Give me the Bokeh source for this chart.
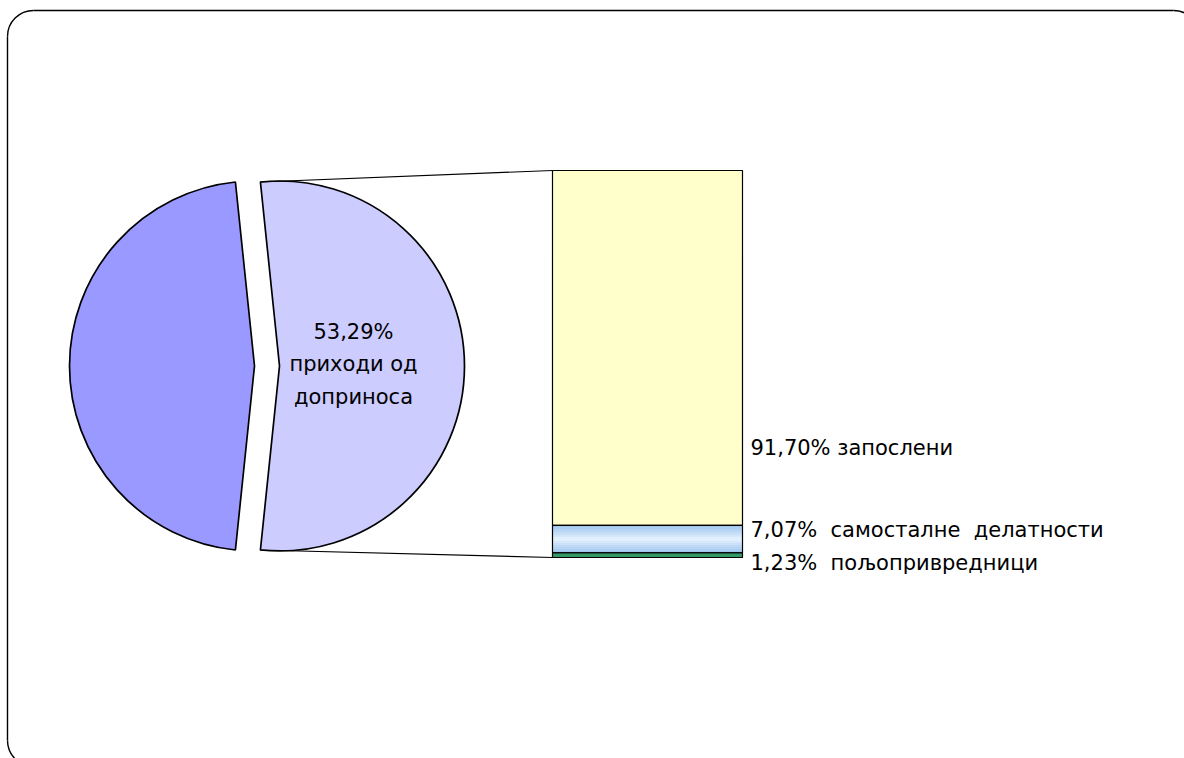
import math
from bokeh.plotting import figure
from bokeh.models import Range1d
from bokeh.core.properties import value
from bokeh.embed import file_html
from bokeh.resources import INLINE

# ---- data ----
pie_labels = ["остало", "приходи од доприноса"]
pie_values = [46.71, 53.29]
pie_colors = ["#9999FF", "#CCCCFF"]

bar_labels = ["пољопривредници", "самосталне делатности", "запослени"]
bar_values = [1.23, 7.07, 91.70]
bar_colors = ["#339966", "#CFE4FA", "#FFFFCC"]
NB = "\u00a0"
bar_texts = ["1,23%" + NB + " пољопривредници",
             "7,07%" + NB + " самосталне" + NB + " делатности",
             "91,70% запослени"]
bar_label_pos = [-1.3, 7.2, 28.4]  # label anchor heights on bar axis

pie_text = "53,29%\nприходи од\nдоприноса"

FONT = "DejaVu Sans"
W, H = 1184, 758

p = figure(width=W, height=H, output_backend="svg", toolbar_location=None,
           x_range=Range1d(0, W), y_range=Range1d(0, H), min_border=0,
           outline_line_color=None, background_fill_color="white")
p.xaxis.visible = False
p.yaxis.visible = False
p.grid.visible = False

# bar axis: 0..100 -> bar bottom..top
bar_bottom_y, bar_px_per_pct = 201.0, 3.87
p.extra_y_ranges = {"bar": Range1d(-bar_bottom_y / bar_px_per_pct, (H - bar_bottom_y) / bar_px_per_pct)}

# rounded chart frame (extends past the right and bottom edges)
fl, fr, ft, fb, rr = 7, 1199, H - 10, -8, 26
p.segment(x0=[fl + rr, fl], y0=[ft, ft - rr], x1=[fr - rr, fl], y1=[ft, fb + rr],
          line_color="black", line_width=1.4)
p.arc(x=[fl + rr, fr - rr, fl + rr], y=[ft - rr, ft - rr, fb + rr], radius=rr,
      start_angle=[math.pi / 2, 0, math.pi], end_angle=[math.pi, math.pi / 2, 1.5 * math.pi],
      line_color="black", line_width=1.4)

# ---- pie (second slice exploded) ----
R = 185
cy = 392.5
centers_x = [254, 279]
total = sum(pie_values)
half_left = math.pi * pie_values[0] / total  # half-angle of left slice
starts = [math.pi - half_left, -(math.pi - half_left)]
ends = [math.pi + half_left, math.pi - half_left]
p.wedge(x=centers_x, y=[cy, cy], radius=R, start_angle=starts, end_angle=ends,
        fill_color=pie_colors, line_color="black", line_width=1.7)

# ---- bar ----
bar_left, bar_right = 552, 742
cum = [0]
for v in bar_values:
    cum.append(cum[-1] + v)
bottoms = cum[:-1]
tops = cum[1:]

# gradient for middle segment
n = 14
grad_b, grad_t, grad_c = [], [], []
for i in range(n):
    b = bottoms[1] + bar_values[1] * i / n
    t = bottoms[1] + bar_values[1] * (i + 1) / n
    f = abs((i + 0.5) / n - 0.5) * 2  # 0 center, 1 edge
    c0 = (0xE8, 0xF3, 0xFF)
    c1 = (0x98, 0xC2, 0xEE)
    col = "#%02x%02x%02x" % tuple(int(c0[k] + (c1[k] - c0[k]) * f) for k in range(3))
    grad_b.append(b); grad_t.append(t); grad_c.append(col)

p.quad(left=[bar_left] * 3, right=[bar_right] * 3, bottom=bottoms, top=tops,
       fill_color=bar_colors, line_color=None, y_range_name="bar")
p.quad(left=bar_left, right=bar_right, bottom=grad_b, top=grad_t,
       fill_color=grad_c, line_color=None, y_range_name="bar")
p.quad(left=[bar_left] * 3, right=[bar_right] * 3, bottom=bottoms, top=tops,
       fill_color=None, line_color="black", line_width=1.2, y_range_name="bar")

# connector lines from exploded slice to bar
ang = starts[0]
ex = centers_x[1] + R * math.cos(ang)
ey_top = cy + R * math.sin(ang)
ey_bot = cy - R * math.sin(ang)
bar_top_y = bar_bottom_y + bar_px_per_pct * cum[-1]
p.segment(x0=[ex, ex], y0=[ey_top, ey_bot], x1=[bar_left, bar_left], y1=[bar_top_y, bar_bottom_y],
          line_color="black", line_width=1.2)

# labels
p.text(x=[centers_x[1] + 0.4 * R], y=[cy + 1.5], text=[pie_text], text_align="center",
       text_baseline="middle", text_font=value(FONT), text_font_size="21px",
       text_color="black", text_line_height=1.35)
p.text(x=[bar_right + 8] * 3, y=bar_label_pos, text=bar_texts, text_align="left",
       text_baseline="middle", text_font=value(FONT), text_font_size="21px",
       text_color="black", y_range_name="bar")

open("out.html", "w").write(file_html(p, INLINE))
